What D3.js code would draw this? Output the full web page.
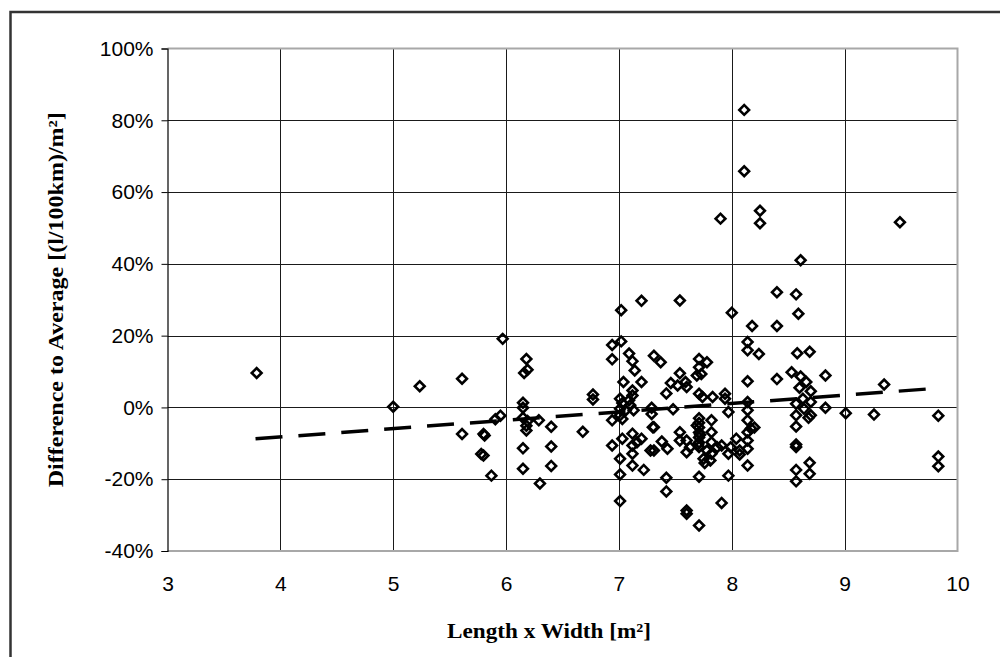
<!DOCTYPE html>
<html>
<head>
<meta charset="utf-8">
<script src="https://cdn.jsdelivr.net/npm/d3@7"></script>
<style>
  html, body { margin: 0; padding: 0; background: #fff; }
  svg { display: block; }
</style>
</head>
<body>
<svg id="chart" width="1000" height="657"></svg>
<script>
// ---- data ----
const xTicks = [3, 4, 5, 6, 7, 8, 9, 10];
const yTicks = [-0.4, -0.2, 0, 0.2, 0.4, 0.6, 0.8, 1.0];
const xTitle = "Length x Width [m²]";
const yTitle = "Difference to Average [(l/100km)/m²]";

// area (m²)
const areaX = [
  3.79, 5.00, 5.235, 5.61, 5.61, 5.80, 5.81, 5.80, 5.78, 5.87,
  5.905, 5.95, 5.97, 6.18, 6.19, 6.16, 6.15, 6.15, 6.15, 6.19,
  6.18, 6.18, 6.29, 6.40, 6.15, 6.40, 6.15, 6.40, 6.30, 6.68,
  6.77, 6.77,
  6.94, 7.02, 7.02, 6.94, 7.09, 7.12, 7.14, 7.20, 7.04, 7.20,
  7.12, 7.12, 7.01, 7.09, 7.03, 7.10, 7.01, 7.06, 7.01, 7.13,
  7.03, 6.94, 7.29, 7.29, 7.48, 7.30, 6.94, 7.03, 7.12, 7.16,
  7.20, 7.12, 7.12, 7.28, 7.01, 7.12, 7.22, 7.01, 7.01,
  7.31, 7.37, 7.54, 7.54, 7.46, 7.52, 7.59, 7.60, 7.42, 7.31,
  7.38, 7.43, 7.31, 7.54, 7.54, 7.60, 7.63, 7.60, 7.42, 7.42,
  7.60, 7.60, 7.71,
  7.71, 7.78, 7.71, 7.69, 7.73, 7.71, 7.74, 7.83, 7.94, 7.94,
  7.97, 7.71, 7.71, 7.71, 7.71, 7.71, 7.71, 7.71, 7.69, 7.72,
  7.70, 7.82, 7.82, 7.82, 7.87, 7.82, 7.78, 7.75, 7.81, 7.91,
  7.97, 7.91, 7.71, 7.76, 7.97, 8.04, 8.07, 8.07, 7.99,
  8.00, 8.18, 8.14, 8.14, 8.24, 8.14, 8.14, 8.14, 8.14, 8.17,
  8.20, 8.14, 8.14, 8.14, 8.14, 8.11, 8.11, 7.90, 8.25, 8.25,
  8.40, 8.57, 8.59, 8.40, 8.61, 8.58, 8.69, 8.40, 8.53, 8.61,
  8.66, 8.60, 8.70, 8.83, 8.63, 8.57, 8.70, 8.83, 8.64, 8.57,
  8.70, 8.68, 8.57, 8.57, 8.57, 8.69, 8.69, 8.57, 8.57, 9.01,
  9.26, 9.35, 9.49, 9.83, 9.83, 9.83
];
// difference to average (%)
const diffPct = [
  9.6, 0.2, 5.9, 8.0, -7.4, -7.4, -7.8, -13.4, -13.0, -19.0,
  -3.3, -2.3, 19.1, 13.5, 10.5, 9.6, 1.3, -0.1, -2.9, -3.8,
  -5.1, -6.4, -3.6, -5.4, -11.4, -10.9, -17.1, -16.3, -21.2, -6.8,
  3.6, 2.2,
  17.4, 18.4, 27.1, 13.4, 15.0, 12.9, 10.3, 29.7, 7.1, 7.1,
  4.7, 3.3, 2.4, 2.0, 1.2, 0.6, -0.4, -0.8, -2.2, -0.8,
  -3.2, -3.6, -0.1, -1.8, -0.5, -5.5, -10.6, -8.7, -7.3, -9.7,
  -8.7, -10.6, -12.9, -12.0, -14.3, -16.2, -17.4, -18.7, -26.1,
  14.4, 12.6, 29.8, 9.5, 6.8, 6.1, 7.1, 5.7, 3.9, -5.5,
  -9.5, -11.5, -12.0, -6.9, -9.2, -9.2, -11.1, -12.5, -19.6, -23.4,
  -28.7, -29.6, -32.9,
  13.5, 12.6, 11.2, 8.9, 9.3, 3.8, 2.9, 2.9, 3.8, 2.4,
  -1.3, -3.0, -4.3, -5.6, -7.0, -8.4, -9.8, -11.0, -5.0, -7.6,
  -10.3, -3.6, -6.9, -9.7, -11.1, -12.9, -12.0, -14.3, -14.8, -10.6,
  -19.0, -26.6, -19.3, -15.5, -12.9, -8.7, -12.0, -13.1, -11.1,
  26.4, 22.7, 18.2, 15.9, 14.9, 7.3, 1.5, -0.8, -3.6, -5.9,
  -5.6, -6.9, -9.2, -11.5, -16.2, 82.9, 65.8, 52.6, 54.8, 51.3,
  32.1, 31.5, 26.1, 22.7, 41.0, 15.1, 15.5, 7.9, 9.8, 8.6,
  7.1, 5.5, 4.5, 8.9, 2.4, 1.0, 1.5, -0.1, -0.4, -2.2,
  -2.2, -2.9, -5.3, -10.3, -11.0, -15.4, -18.5, -17.4, -20.6, -1.6,
  -2.0, 6.4, 51.6, -2.3, -13.7, -16.4
];
// linear trend line end points
const trendX = [3.78, 9.83];
const trendPct = [-8.75, 5.36];

// ---- drawing ----
(function () {
  const svg = d3.select("#chart");
  const pL = 167.5, pR = 957.5, pT = 48.5, pB = 551;
  const x = d3.scaleLinear().domain([3, 10]).range([pL, pR]);
  const y = d3.scaleLinear().domain([-0.4, 1.0]).range([pB, pT]);

  // outer frame
  svg.append("rect")
    .attr("x", 10.5).attr("y", 12).attr("width", 1010).attr("height", 700)
    .attr("fill", "none").attr("stroke", "#333").attr("stroke-width", 2.5);

  // gridlines
  const g = svg.append("g");
  g.selectAll("line.vg").data(xTicks.filter(d => d > 3 && d < 10)).join("line")
    .attr("class", "vg")
    .attr("x1", d => Math.round(x(d)) + 0.5).attr("x2", d => Math.round(x(d)) + 0.5)
    .attr("y1", pT).attr("y2", pB)
    .attr("stroke", "#1a1a1a").attr("stroke-width", 1);
  g.selectAll("line.hg").data(yTicks.filter(d => d > -0.4 && d < 1.0)).join("line")
    .attr("class", "hg")
    .attr("x1", pL).attr("x2", pR)
    .attr("y1", d => Math.round(y(d)) + 0.5).attr("y2", d => Math.round(y(d)) + 0.5)
    .attr("stroke", "#1a1a1a").attr("stroke-width", 1);

  // plot border (gray) top, right, bottom
  svg.append("path")
    .attr("d", `M${pL},${y(1.0)}H${pR}V${y(-0.4)}H${pL}`)
    .attr("fill", "none").attr("stroke", "#a8a8a8").attr("stroke-width", 2);

  // y axis
  const pct = d => `${Math.round(d * 100)}%`;
  const yAxis = d3.axisLeft(y).tickValues(yTicks).tickSize(6).tickPadding(8)
    .tickFormat(pct);
  const ya = svg.append("g").attr("transform", `translate(${pL},0)`).call(yAxis);
  ya.select(".domain").attr("stroke", "#000").attr("stroke-width", 1.2);
  ya.selectAll(".tick line").attr("stroke", "#000");
  ya.selectAll(".tick text")
    .attr("font-family", "'Liberation Sans', Arial, sans-serif")
    .attr("font-size", 21).attr("fill", "#000");

  // x axis (labels only)
  const xAxis = d3.axisBottom(x).tickValues(xTicks).tickSize(0).tickPadding(25)
    .tickFormat(d => String(d));
  const xa = svg.append("g").attr("transform", `translate(0,${pB})`).call(xAxis);
  xa.select(".domain").remove();
  xa.selectAll(".tick text")
    .attr("font-family", "'Liberation Sans', Arial, sans-serif")
    .attr("font-size", 21).attr("fill", "#000");

  // trend line
  const line = d3.line().x(d => x(d[0])).y(d => y(d[1] / 100));
  svg.append("path")
    .datum(trendX.map((v, i) => [v, trendPct[i]]))
    .attr("d", line)
    .attr("fill", "none").attr("stroke", "#000").attr("stroke-width", 3.5)
    .attr("stroke-dasharray", "27,16");

  // points (diamonds)
  const diamond = d3.symbol().type(d3.symbolSquare).size(48);
  svg.append("g").selectAll("path.pt")
    .data(areaX.map((v, i) => [v, diffPct[i]]))
    .join("path")
    .attr("class", "pt")
    .attr("d", diamond)
    .attr("transform", d => `translate(${x(d[0])},${y(d[1] / 100)}) rotate(45)`)
    .attr("fill", "none").attr("stroke", "#000").attr("stroke-width", 2.6);

  // axis titles
  svg.append("text")
    .attr("x", 549).attr("y", 638)
    .attr("text-anchor", "middle")
    .attr("font-family", "'Liberation Serif', 'Times New Roman', serif")
    .attr("font-weight", "bold").attr("font-size", 21)
    .attr("textLength", 204).attr("lengthAdjust", "spacingAndGlyphs")
    .text(xTitle);

  svg.append("text")
    .attr("transform", `translate(63,${(pT + pB) / 2}) rotate(-90)`)
    .attr("text-anchor", "middle")
    .attr("font-family", "'Liberation Serif', 'Times New Roman', serif")
    .attr("font-weight", "bold").attr("font-size", 21)
    .attr("textLength", 375).attr("lengthAdjust", "spacingAndGlyphs")
    .text(yTitle);
})();
</script>
</body>
</html>
